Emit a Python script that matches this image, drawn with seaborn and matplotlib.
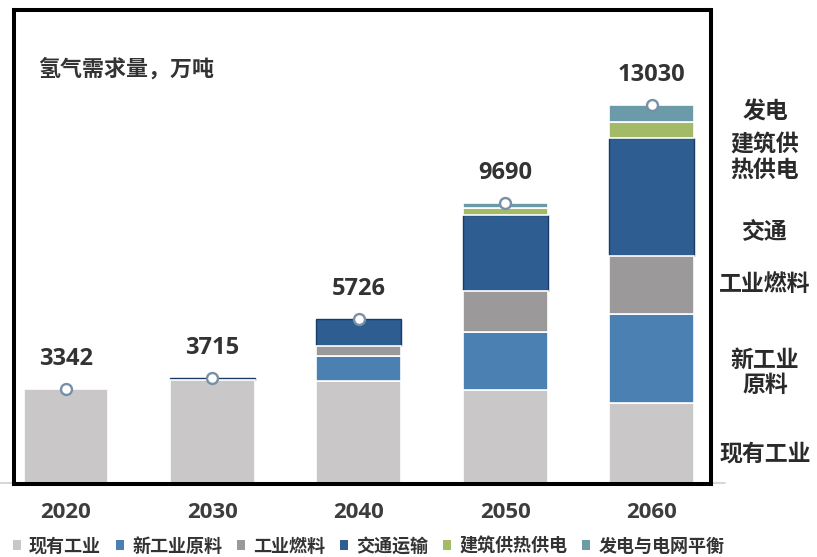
import numpy as np
import matplotlib
matplotlib.use("Agg")
import matplotlib.pyplot as plt
from matplotlib.patches import Patch
import seaborn as sns

# ---- data (万吨) ----
years = ["2020", "2030", "2040", "2050", "2060"]
totals = [3342, 3715, 5726, 9690, 13030]
categories = ["现有工业", "新工业原料", "工业燃料", "交通运输", "建筑供热供电", "发电与电网平衡"]
existing_industry = [3342, 3640, 3600, 3300, 2850]
new_feedstock = [0, 0, 870, 2000, 3050]
industrial_fuel = [0, 0, 330, 1370, 1990]
transport = [0, 75, 926, 2600, 4000]
building_heat_power = [0, 0, 0, 250, 560]
power_grid = [0, 0, 0, 170, 580]
side_labels = ["发电", "建筑供\n热供电", "交通", "工业燃料", "新工业\n原料", "现有工业"]
y_title = "氢气需求量，万吨"

series = [existing_industry, new_feedstock, industrial_fuel,
          transport, building_heat_power, power_grid]
colors = ["#c9c7c8", "#4a80b2", "#9b999a", "#2d5d91", "#a3bb66", "#6b9ba8"]
edge_colors = ["white", "white", "white", "#1b3a66", "white", "white"]
edge_widths = [1.2, 1.2, 1.2, 1.0, 1.2, 1.2]
layer_z = [3, 3, 3, 2, 3, 3]

sns.set_theme(style="white")
plt.rcParams["font.family"] = ["Open Sans", "Noto Sans CJK SC", "DejaVu Sans"]
cjk = ["Noto Sans CJK SC", "DejaVu Sans"]

W, H = 817, 557
fig = plt.figure(figsize=(W / 100, H / 100), dpi=100)
fig.patch.set_facecolor("white")

# plot box in pixel coordinates
left_px, right_px, top_px, bottom_px = 13.5, 710.5, 10, 484
ax = fig.add_axes([left_px / W, 1 - bottom_px / H,
                   (right_px - left_px) / W, (bottom_px - top_px) / H])

# stacked bars (empty segments get no outline)
bottom = np.zeros(len(years))
for vals, color, ec, lw, z in zip(series, colors, edge_colors, edge_widths, layer_z):
    ecs = [ec if v > 0 else "none" for v in vals]
    sns.barplot(x=years, y=vals, color=color, saturation=1, width=0.58,
                bottom=bottom.copy(), edgecolor=ecs, linewidth=lw,
                errorbar=None, ax=ax, zorder=z)
    bottom += np.array(vals, dtype=float)

# total markers and labels
sns.scatterplot(x=np.arange(len(years)), y=totals, marker="o", s=62,
                facecolor="white", edgecolor="#7890a6", linewidth=1.7,
                ax=ax, zorder=5, legend=False)
for i, t in enumerate(totals):
    ax.annotate(str(t), (i, t), xytext=(0, 30), textcoords="offset pixels",
                ha="center", va="center", fontsize=17, fontweight="bold",
                color="#333333", family="Open Sans")

# axis scales: the zero line sits just below the lower frame edge
spacing_px = 146.4
center0_px = 66
ax.set_xlim((left_px - center0_px) / spacing_px, (right_px - center0_px) / spacing_px)
units_per_px = 34.11
base_px = 487
ax.set_ylim((base_px - bottom_px) * units_per_px, (base_px - top_px) * units_per_px)
ax.set_yticks([])
ax.set(xlabel="", ylabel="")
ax.tick_params(axis="x", length=0, pad=13, labelsize=16, labelcolor="#3d3d3d")
for lab in ax.get_xticklabels():
    lab.set_fontweight("bold")
    lab.set_family("Open Sans")

for sp in ax.spines.values():
    sp.set_visible(True)
    sp.set_color("black")
    sp.set_linewidth(2.9)
    sp.set_zorder(6)

# faint baseline running past the frame
ax.plot([-left_px / (right_px - left_px), (725 - left_px) / (right_px - left_px)],
        [0.003, 0.003], transform=ax.transAxes, color="#d0d0d0", lw=1.2,
        clip_on=False, zorder=1)

# title inside the frame
fig.text(38 / W, 1 - 69 / H, y_title, ha="left", va="center", fontsize=15.8,
         fontweight="bold", color="#333333", family=cjk)

# category labels on the right
side_y = [112, 157, 232, 284, 373, 454]
for lab, y in zip(side_labels, side_y):
    fig.text(765 / W, 1 - y / H, lab, ha="center", va="center", fontsize=16.5,
             fontweight="bold", color="#2a2a2a", family=cjk, linespacing=1.15)

# legend along the bottom
handles = [Patch(facecolor=c, edgecolor="none", label=l) for c, l in zip(colors, categories)]
fig.legend(handles=handles, loc="center left", bbox_to_anchor=(13 / W, 1 - 546 / H),
           ncol=6, frameon=False, borderpad=0, borderaxespad=0,
           handlelength=0.45, handleheight=0.5, handletextpad=0.44,
           columnspacing=0.83, labelcolor="#333333",
           prop={"family": cjk, "weight": "bold", "size": 13})

fig.savefig("out.png", dpi=100)
